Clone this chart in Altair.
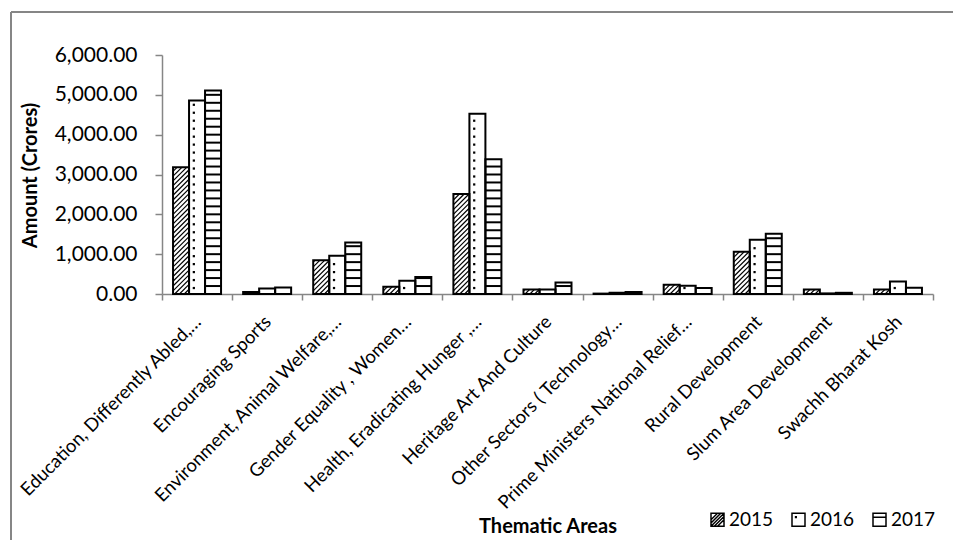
import json
import altair as alt
import pandas as pd

# ---- data -------------------------------------------------------------
categories = [
    "Education, Differently Abled,…",
    "Encouraging Sports",
    "Environment, Animal Welfare,…",
    "Gender Equality , Women…",
    "Health, Eradicating Hunger ,…",
    "Heritage Art And Culture",
    "Other Sectors ( Technology…",
    "Prime Ministers National Relief…",
    "Rural Development",
    "Slum Area Development",
    "Swachh Bharat Kosh",
]
years = ["2015", "2016", "2017"]
amount_2015 = [3180, 50, 850, 185, 2510, 115, 10, 235, 1060, 110, 115]
amount_2016 = [4860, 140, 960, 335, 4525, 115, 30, 210, 1365, 15, 315]
amount_2017 = [5110, 165, 1290, 425, 3385, 290, 50, 150, 1510, 30, 160]
y_ticks = [0, 1000, 2000, 3000, 4000, 5000, 6000]

series = {"2015": amount_2015, "2016": amount_2016, "2017": amount_2017}
rows = []
for yi, yr in enumerate(years):
    for ci, name in enumerate(categories):
        rows.append({"ci": ci, "category": name, "year": yr, "yi": yi, "value": series[yr][ci]})
df = pd.DataFrame(rows)

# ---- layout -----------------------------------------------------------
PLOT_W, PLOT_H = 771, 239
PAD = {"left": 162, "top": 55, "right": 20, "bottom": 246}
N = len(categories)
GAP = 0.1575          # space left of each group, in category units
BAR = 0.2283          # width of one bar, in category units
RISE = 400            # 45-degree hatch: value units climbed across one bar
PITCH = 120           # hatch spacing in value units
GRAY = "#868686"
FONT = "Lato"

xscale = alt.Scale(domain=[0, N], nice=False, zero=False)
yscale = alt.Scale(domain=[0, 6000], nice=False)

label_lookup = json.dumps(categories, ensure_ascii=False)
x_axis = alt.Axis(
    values=[i * 0.5 for i in range(2 * N + 1)],
    labelExpr=f"datum.value % 1 == 0.5 ? {label_lookup}[floor(datum.value)] : ''",
    labelAngle=-45,
    labelOverlap=False,
    labelFlush=False,
    labelLimit=0,
    labelFontSize=18.5,
    labelColor="black",
    labelPadding=12,
    labelOffset=-6,
    tickOpacity={"condition": {"test": "datum.value % 1 == 0.5", "value": 0}, "value": 1},
    tickSize=6,
    tickColor=GRAY,
    tickWidth=1.5,
    domainColor=GRAY,
    domainWidth=1.5,
    grid=False,
    title="Thematic Areas",
    titleFontSize=20,
    titleFontWeight="bold",
    titleColor="black",
    titleY=238,
    titleBaseline="alphabetic",
)
y_axis = alt.Axis(
    values=y_ticks,
    format=",.2f",
    labelFontSize=21,
    labelColor="black",
    labelPadding=18,
    tickSize=7,
    tickColor=GRAY,
    tickWidth=1.5,
    domainColor=GRAY,
    domainWidth=1.5,
    grid=False,
    title="Amount (Crores)",
    titleFontSize=20,
    titleFontWeight="bold",
    titleColor="black",
    titleAngle=270,
    titleX=-132,
    titleY=120,
    titleAlign="center",
    titleBaseline="middle",
)


def X(field):
    return alt.X(field, scale=xscale, axis=x_axis, title="Thematic Areas")


def Y(field):
    return alt.Y(field, scale=yscale, axis=y_axis, title="Amount (Crores)")


base = alt.Chart(df).transform_calculate(
    x0=f"datum.ci + {GAP} + datum.yi * {BAR}",
    x1=f"datum.ci + {GAP} + (datum.yi + 1) * {BAR}",
)

# white bar bodies
bars_fill = base.mark_rect(fill="white").encode(
    x=X("x0:Q"), x2="x1:Q", y=Y("value:Q"), y2=alt.datum(0)
)

# 2015: upward diagonal hatch clipped to the bar
hatch = (
    base.transform_filter("datum.yi == 0")
    .transform_calculate(k=f"sequence(-{RISE}, datum.value, {PITCH})")
    .transform_flatten(["k"])
    .transform_calculate(
        ya="max(datum.k, 0)",
        yb=f"min(datum.k + {RISE}, datum.value)",
    )
    .transform_filter("datum.yb > datum.ya")
    .transform_calculate(
        xa=f"datum.x0 + (datum.ya - datum.k) / {RISE} * {BAR}",
        xb=f"datum.x0 + (datum.yb - datum.k) / {RISE} * {BAR}",
    )
    .mark_rule(color="black", strokeWidth=1.2)
    .encode(x=X("xa:Q"), x2="xb:Q", y=Y("ya:Q"), y2="yb:Q")
)

# 2016: sparse dots
dots = (
    base.transform_filter("datum.yi == 1")
    .transform_calculate(k="sequence(150, datum.value - 40, 200)")
    .transform_flatten(["k"])
    .transform_calculate(xd=f"datum.x0 + {BAR} * 0.3")
    .mark_square(color="black", size=5, opacity=1)
    .encode(x=X("xd:Q"), y=Y("k:Q"))
)

# 2017: horizontal stripes
stripes = (
    base.transform_filter("datum.yi == 2")
    .transform_calculate(k="sequence(200, datum.value, 200)")
    .transform_flatten(["k"])
    .mark_rule(color="black", strokeWidth=2)
    .encode(x=X("x0:Q"), x2="x1:Q", y=Y("k:Q"))
)

# bar outlines on top
outlines = base.mark_rect(fillOpacity=0, stroke="black", strokeWidth=2).encode(
    x=X("x0:Q"), x2="x1:Q", y=Y("value:Q"), y2=alt.datum(0)
)

# legend swatches: small squares carrying each year's pattern
swatch_paths = [
    "M-1,-1H1V1H-1Z M-1,0L0,-1 M-1,1L1,-1 M0,1L1,0 M-1,0.5L0.5,-1 M-0.5,1L1,-0.5",
    "M-1,-1H1V1H-1Z M-0.45,-0.45h0.1v0.1h-0.1Z",
    "M-1,-1H1V1H-1Z M-1,-0.4H1",
]
legend_layer = (
    alt.Chart(df)
    .transform_filter("false")
    .mark_point(filled=False, color="black", strokeWidth=1.5, opacity=1)
    .encode(
        x=X("ci:Q"),
        y=Y("value:Q"),
        shape=alt.Shape(
            "year:N",
            scale=alt.Scale(domain=years, range=swatch_paths),
            legend=alt.Legend(
                title=None,
                orient="none",
                legendX=546,
                legendY=455,
                direction="horizontal",
                symbolSize=169,
                symbolStrokeColor="black",
                symbolStrokeWidth=1.5,
                symbolOpacity=1,
                labelFontSize=19,
                labelColor="black",
                labelOffset=2,
                columnPadding=15,
                padding=0,
            ),
        ),
    )
)

# chart-area border (top and left edges)
edge = pd.DataFrame({"edge": ["frame"]})
frame_top = alt.Chart(edge).mark_rule(color=GRAY, strokeWidth=2).encode(
    x=alt.value(-151), x2=alt.value(791), y=alt.value(-43)
)
frame_left = alt.Chart(edge).mark_rule(color=GRAY, strokeWidth=2).encode(
    x=alt.value(-151), y=alt.value(-43), y2=alt.value(485)
)

chart = (
    alt.layer(bars_fill, hatch, dots, stripes, outlines, legend_layer, frame_top, frame_left)
    .properties(
        width=PLOT_W,
        height=PLOT_H,
        padding=PAD,
        autosize=alt.AutoSizeParams(type="none"),
        background="white",
    )
    .configure(font=FONT)
    .configure_view(strokeWidth=0)
)

chart.save("out.html", embed_options={"renderer": "svg", "actions": False})
